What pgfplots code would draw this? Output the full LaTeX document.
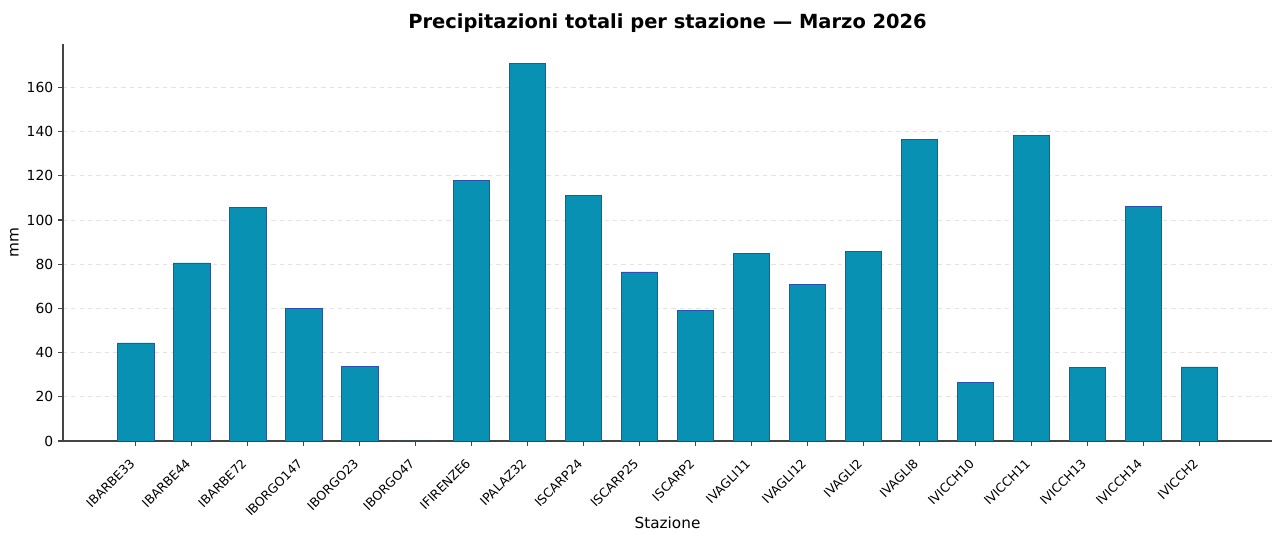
\documentclass[border=0pt]{standalone}
\usepackage{fontspec}
\setmainfont{DejaVu Sans}
\usepackage{pgfplots}
\pgfplotsset{compat=1.18}
\definecolor{barfill}{HTML}{0891B2}
\definecolor{baredge}{HTML}{2A4FB5}
\definecolor{spine}{HTML}{444444}
\definecolor{gridc}{HTML}{E3E3E3}

\begin{document}
\begin{tikzpicture}
\begin{axis}[
name=ax,
scale only axis,
width=870.5pt, height=285.8pt,
xmin=-1.3, xmax=20.3, ymin=0, ymax=179.6,
axis x line*=bottom, axis y line*=left,
axis line style={color=spine, line width=0.8pt},
tick style={color=spine, line width=0.8pt},
tick align=outside, major tick length=3.5pt,
xtick=data,
xticklabels={IBARBE33,IBARBE44,IBARBE72,IBORGO147,IBORGO23,IBORGO47,IFIRENZE6,IPALAZ32,ISCARP24,ISCARP25,ISCARP2,IVAGLI11,IVAGLI12,IVAGLI2,IVAGLI8,IVICCH10,IVICCH11,IVICCH13,IVICCH14,IVICCH2},
x tick label style={xshift=-5pt, yshift=-7pt, rotate=45, anchor=north east, font=\fontsize{9}{11}\selectfont, inner sep=1pt},
ytick={0,20,...,160},
y tick label style={font=\fontsize{10}{12}\selectfont},
/pgf/number format/assume math mode=true,
ymajorgrids,
major grid style={gridc, dashed, line width=0.6pt},
xlabel={Stazione}, ylabel={mm},
xlabel style={font=\fontsize{11}{13}\selectfont, yshift=5pt},
ylabel style={font=\fontsize{11}{13}\selectfont, yshift=-1pt},
title={\bfseries Precipitazioni totali per stazione — Marzo 2026},
title style={font=\fontsize{14}{16}\selectfont, yshift=-1pt},
]
\addplot[ybar, bar width=0.65, fill=barfill, draw=baredge, line width=0.5pt] coordinates {
(0,44.4) (1,80.6) (2,105.8) (3,59.8) (4,33.8) (5,0) (6,117.8) (7,170.7)
(8,111.1) (9,76.5) (10,58.9) (11,85.0) (12,70.7) (13,85.6) (14,136.3)
(15,26.5) (16,138.1) (17,33.2) (18,106.1) (19,33.5)
};
\end{axis}
\pgfresetboundingbox
\path[use as bounding box] (ax.south west) ++(-45.36pt,-66.96pt) rectangle ++(917.28pt,384.48pt);
\end{tikzpicture}
\end{document}
